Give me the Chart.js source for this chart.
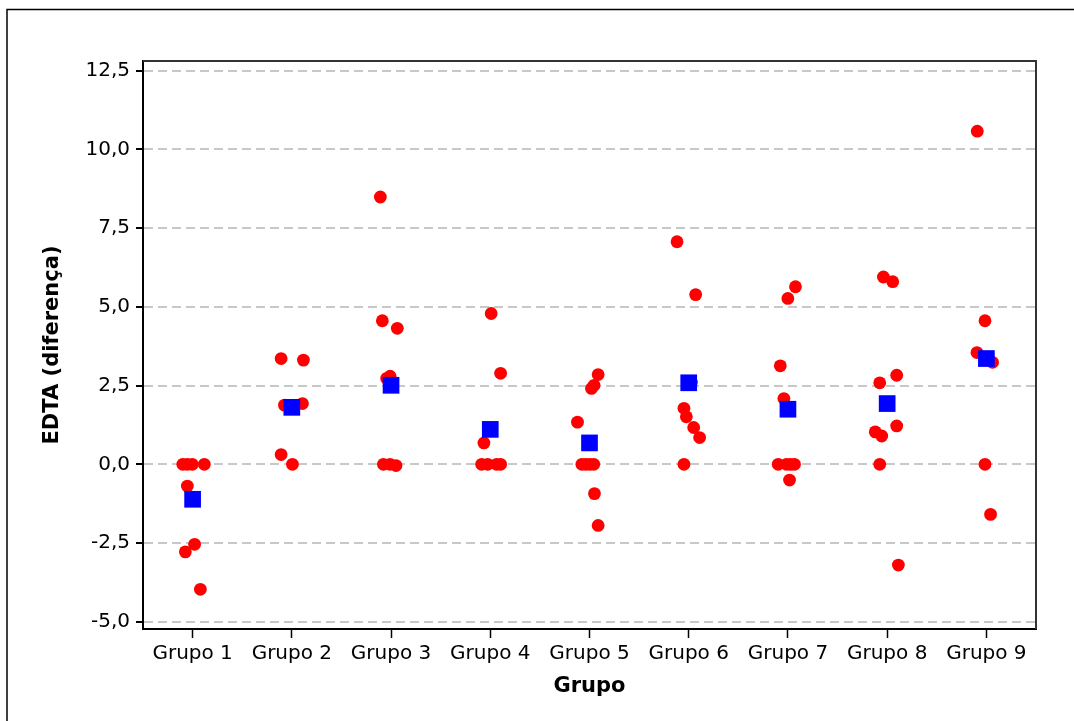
<!DOCTYPE html>
<html><head><meta charset="utf-8">
<script src="https://cdn.jsdelivr.net/npm/chart.js@4.4.1/dist/chart.umd.min.js"></script>
<style>html,body{margin:0;padding:0;background:#fff;overflow:hidden}#wrap{width:1074px;height:721px;position:relative}</style>
</head><body><div id="wrap"><canvas id="c" width="1074" height="721"></canvas></div>
<script>
// ---- data ----
const categories = ['Grupo 1','Grupo 2','Grupo 3','Grupo 4','Grupo 5','Grupo 6','Grupo 7','Grupo 8','Grupo 9'];
const yTickValues = [-5, -2.5, 0, 2.5, 5, 7.5, 10, 12.5];
const yTickLabels = ['-5,0','-2,5','0,0','2,5','5,0','7,5','10,0','12,5'];

// individual observations (x = group position incl. jitter, y = value)
const indivX = [
  0.901, 0.947, 0.997, 1.118, 0.947, 1.020, 0.927, 1.078,
  1.892, 2.117, 2.107, 1.926, 1.892, 2.006,
  2.892, 2.912, 3.063, 2.956, 2.990, 2.923, 2.990, 3.050,
  4.009, 4.104, 3.936, 3.913, 3.974, 4.064, 4.104,
  5.087, 5.046, 5.020, 4.879, 4.923, 4.963, 5.003, 5.043, 5.050, 5.087,
  5.882, 6.070, 6.027, 5.952, 5.976, 6.050, 6.110, 5.952,
  7.076, 6.999, 6.923, 6.959, 6.902, 6.986, 7.026, 7.066, 7.016,
  7.962, 8.056, 8.096, 7.925, 8.096, 7.880, 7.945, 7.925, 8.113,
  8.908, 8.986, 8.905, 9.062, 8.986, 9.042
];
const indivY = [
  0, 0, 0, 0, -0.69, -2.54, -2.78, -3.97,
  3.36, 3.31, 1.93, 1.88, 0.31, 0.0,
  8.49, 4.56, 4.32, 2.73, 2.80, 0, 0, -0.04,
  4.79, 2.89, 0.68, 0, 0, 0, 0,
  2.85, 2.51, 2.41, 1.34, 0, 0, 0, 0, -0.93, -1.94,
  7.07, 5.39, 2.61, 1.78, 1.51, 1.17, 0.85, 0,
  5.64, 5.27, 3.13, 2.09, 0, 0, 0, 0, -0.50,
  5.95, 5.80, 2.83, 2.59, 1.22, 1.03, 0.90, 0, -3.20,
  10.58, 4.56, 3.55, 3.24, 0, -1.59
];
// group means
const meanX = [1, 2, 3, 4, 5, 6, 7, 8, 9];
const meanY = [-1.11, 1.81, 2.51, 1.11, 0.68, 2.59, 1.75, 1.93, 3.36];

// ---- chart ----
const FONT = 'DejaVu Sans';
const framePlugin = {
  id: 'frame',
  afterDraw(chart) {
    const {ctx, chartArea: a} = chart;
    ctx.save();
    ctx.strokeStyle = '#000';
    ctx.lineWidth = 1.5;
    ctx.beginPath();
    ctx.moveTo(7, 721); ctx.lineTo(7, 9.5); ctx.lineTo(1074, 9.5);
    ctx.stroke();
    ctx.strokeStyle = '#333';
    ctx.lineWidth = 2;
    ctx.beginPath();
    ctx.moveTo(a.left, a.top); ctx.lineTo(a.right, a.top); ctx.lineTo(a.right, a.bottom);
    ctx.stroke();
    ctx.restore();
  }
};

new Chart(document.getElementById('c'), {
  type: 'scatter',
  data: {
    datasets: [
      {
        label: 'Média',
        data: meanX.map((x, i) => ({x: x, y: meanY[i]})),
        pointStyle: 'rect',
        pointRadius: 11.8,
        pointHoverRadius: 11.8,
        backgroundColor: '#0000ff',
        borderWidth: 0
      },
      {
        label: 'Individual',
        data: indivX.map((x, i) => ({x: x, y: indivY[i]})),
        pointStyle: 'circle',
        pointRadius: 6.4,
        pointHoverRadius: 6.4,
        backgroundColor: '#ff0000',
        borderWidth: 0
      }
    ]
  },
  options: {
    responsive: false,
    animation: false,
    events: [],
    layout: {padding: {left: 10, top: 61, right: 38, bottom: 0}},
    plugins: {legend: {display: false}, tooltip: {enabled: false}},
    scales: {
      x: {
        type: 'linear', min: 0.5, max: 9.5,
        afterBuildTicks: s => { s.ticks = categories.map((c, i) => ({value: i + 1})); },
        afterFit: s => { s.height = 92; },
        grid: {drawOnChartArea: false, drawTicks: true, tickLength: 9, tickColor: '#000', tickWidth: 1.5},
        border: {display: true, color: '#000', width: 2},
        ticks: {color: '#000', font: {family: FONT, size: 20}, padding: 4, autoSkip: false, maxRotation: 0,
                callback: (v, i) => categories[i]},
        title: {display: true, text: 'Grupo', color: '#000', font: {family: FONT, size: 21, weight: 'bold'},
                padding: {top: 0, bottom: 22}}
      },
      y: {
        type: 'linear', min: -5.23, max: 12.81,
        afterBuildTicks: s => { s.ticks = yTickValues.map(v => ({value: v})); },
        afterFit: s => { s.width = 133; },
        grid: {color: '#c8c8c8', lineWidth: 2, drawTicks: true, tickLength: 7, tickColor: '#000', tickWidth: 2, tickBorderDash: []},
        border: {display: true, color: '#000', width: 2, dash: [9, 5]},
        ticks: {color: '#000', font: {family: FONT, size: 20}, padding: 6,
                callback: (v, i) => yTickLabels[i]},
        title: {display: true, text: 'EDTA (diferença)', color: '#000', font: {family: FONT, size: 21, weight: 'bold'},
                padding: {top: 30, bottom: 0}}
      }
    }
  },
  plugins: [framePlugin]
});
</script>
</body></html>
